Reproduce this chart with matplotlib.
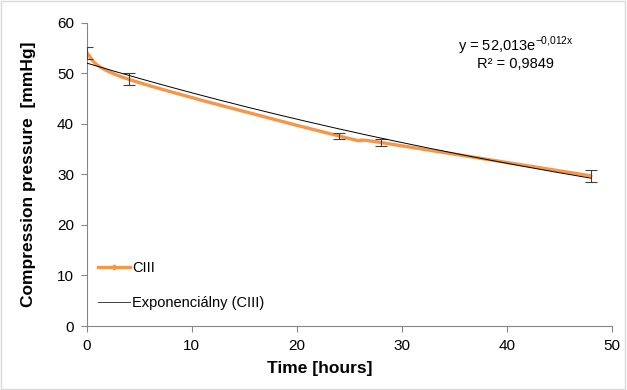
# Compression pressure vs time, with exponential trendline

import numpy as np
from matplotlib import pyplot as plt
from matplotlib.path import Path
from matplotlib.patches import PathPatch, Rectangle
from matplotlib.lines import Line2D

plt.rcParams['font.family'] = ['Liberation Sans', 'DejaVu Sans']
plt.rcParams['mathtext.fontset'] = 'custom'
plt.rcParams['mathtext.rm'] = 'Liberation Sans'

# data
time_h = [0, 4, 24, 28, 48]
pressure = [54.0, 48.8, 37.6, 36.3, 29.7]
pressure_err = [1.2, 1.2, 0.6, 0.6, 1.2]

# exponential trendline y = a*exp(b*x)
fit_a = 52.013
fit_b = -0.012
fit_r2 = '0,9849'

orange = '#F79646'
axis_gray = '#868686'

fig = plt.figure(figsize=(6.27, 3.9), dpi=100)
ax = fig.add_axes([0.138, 0.164, 0.838, 0.778])

# smoothed line like Excel (bezier through the points)
x = np.array(time_h, dtype=float)
y = np.array(pressure, dtype=float)
pts = np.column_stack([x, y])
verts = [tuple(pts[0])]
codes = [Path.MOVETO]
n = len(pts)
for i in range(n - 1):
    p0 = pts[i - 1] if i > 0 else pts[i]
    p1 = pts[i]
    p2 = pts[i + 1]
    p3 = pts[i + 2] if i + 2 < n else pts[i + 1]
    c1 = p1 + (p2 - p0) / 6.0
    c2 = p2 - (p3 - p1) / 6.0
    verts += [tuple(c1), tuple(c2), tuple(p2)]
    codes += [Path.CURVE4] * 3
ax.add_patch(PathPatch(Path(verts, codes), facecolor='none', edgecolor=orange,
                       lw=2.4, capstyle='round', zorder=3))

ax.errorbar(time_h, pressure, yerr=pressure_err, fmt='none', ecolor='#404040',
            elinewidth=0.8, capsize=4.5, capthick=0.8, zorder=4)

# trendline
xt = np.linspace(0, 48, 200)
ax.plot(xt, fit_a * np.exp(fit_b * xt), color='black', lw=0.7, zorder=5)

ax.set_xlim(0, 50)
ax.set_ylim(0, 60)
ax.set_xticks(range(0, 51, 10))
ax.set_yticks(range(0, 61, 10))
for s in ['top', 'right']:
    ax.spines[s].set_visible(False)
for s in ['left', 'bottom']:
    ax.spines[s].set_color(axis_gray)
ax.tick_params(colors=axis_gray, labelcolor='black', labelsize=11, length=4,
               direction='out', pad=5)

ax.set_xlabel('Time [hours]', fontsize=12.5, fontweight='bold')
ax.xaxis.set_label_coords(0.444, -0.115)
ax.set_ylabel('Compression pressure  [mmHg]', fontsize=12.5, fontweight='bold', labelpad=15)

ax.text(0.817, 0.923, r'y = 52,013e$^{\mathrm{-0{,}012x}}$', transform=ax.transAxes,
        ha='center', va='center', fontsize=10.5)
ax.text(0.817, 0.864, 'R² = ' + fit_r2, transform=ax.transAxes,
        ha='center', va='center', fontsize=10.5)

handles = [Line2D([], [], color=orange, lw=2.4, marker='D', markersize=2.5),
           Line2D([], [], color='#404040', lw=0.7)]
ax.legend(handles, ['CIII', 'Exponenciálny (CIII)'], loc='lower left',
          bbox_to_anchor=(0.022, 0.054), borderaxespad=0, borderpad=0,
          frameon=False, fontsize=10.5, handlelength=2.2, handletextpad=0.15,
          labelspacing=1.4)

fig.patches.append(Rectangle((0.002, 0.003), 0.995, 0.994, transform=fig.transFigure,
                             fill=False, edgecolor='#D9D9D9', lw=1))

fig.savefig('out.png', dpi=100)
